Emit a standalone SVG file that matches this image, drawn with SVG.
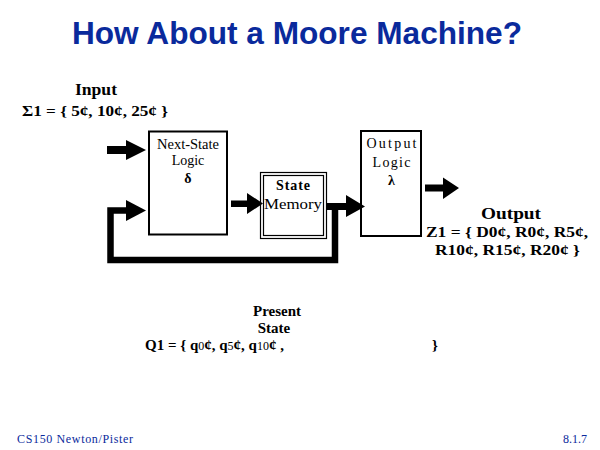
<svg xmlns="http://www.w3.org/2000/svg" width="600" height="450" viewBox="0 0 600 450">
<style>
.title{font-family:"Liberation Sans",Arial,sans-serif;font-weight:bold;font-size:31px;fill:#0a2a9c}
.foot{font-family:"Liberation Serif","Times New Roman",serif;font-size:12px;fill:#0a2a9c}
.box{fill:#fff;stroke:#000;stroke-width:2}
.box2{fill:none;stroke:#000;stroke-width:1.2}
.bt{font-family:"Liberation Serif","Times New Roman",serif;font-size:14px;fill:#000;text-anchor:middle}
.lbl{font-family:"Liberation Serif","Times New Roman",serif;font-size:15px;font-weight:bold;fill:#000}
.big{font-size:16.5px}
.mid{text-anchor:middle}
.small{font-size:12px;font-weight:normal}
.arr{fill:#000}
.line{fill:none;stroke:#000;stroke-width:6.5;stroke-linejoin:miter}
</style>
<rect width="600" height="450" fill="#fff"/>
<text class="title" x="72" y="44" textLength="450" lengthAdjust="spacingAndGlyphs">How About a Moore Machine?</text>

<g id="input-label">
<text class="lbl big mid" x="96" y="95" textLength="42" lengthAdjust="spacingAndGlyphs">Input</text>
<text class="lbl" x="22" y="116" textLength="146" lengthAdjust="spacingAndGlyphs">Σ1 = { 5¢, 10¢, 25¢ }</text>
</g>

<g id="next-state-logic">
<rect class="box" x="149" y="131.5" width="78" height="103"/>
<text class="bt" x="188" y="149" textLength="62" lengthAdjust="spacingAndGlyphs">Next-State</text>
<text class="bt" x="188" y="165">Logic</text>
<text class="bt" x="188" y="183" font-weight="bold">δ</text>
</g>

<g id="state-memory">
<rect class="box2" x="260.5" y="172.5" width="66" height="66"/>
<rect class="box2" x="263.5" y="175.5" width="60" height="60"/>
<text class="bt" x="293" y="190" font-weight="bold" textLength="34" lengthAdjust="spacing">State</text>
<text class="bt" x="293" y="209" textLength="58" lengthAdjust="spacingAndGlyphs">Memory</text>
</g>

<g id="output-logic">
<rect class="box" x="361" y="131" width="60" height="105"/>
<text class="bt" x="391.5" y="148" textLength="50" lengthAdjust="spacing">Output</text>
<text class="bt" x="391.5" y="166.5" textLength="38" lengthAdjust="spacing">Logic</text>
<text class="bt" x="391.5" y="185" font-weight="bold">λ</text>
</g>

<g id="output-label">
<text class="lbl big mid" x="511" y="219" textLength="60" lengthAdjust="spacingAndGlyphs">Output</text>
<text class="lbl" x="426" y="237" textLength="162" lengthAdjust="spacingAndGlyphs">Z1 = { D0¢, R0¢, R5¢,</text>
<text class="lbl" x="435" y="255" textLength="145" lengthAdjust="spacingAndGlyphs">R10¢, R15¢, R20¢ }</text>
</g>

<g id="present-state-label">
<text class="lbl mid" x="277" y="316">Present</text>
<text class="lbl mid" x="274" y="333">State</text>
<text class="lbl" x="145" y="350">Q1 = { q<tspan class="small">0</tspan>¢, q<tspan class="small">5</tspan>¢, q<tspan class="small">10</tspan>¢ ,</text>
<text class="lbl" x="432" y="350">}</text>
</g>

<g id="connectors">
<path class="arr" d="M107,146 H126 V140 L146,150 L126,160 V154 H107 Z"/>
<path class="line" d="M335,207 V260 H110.5 V210.5 H128"/>
<path class="arr" d="M126,200 L146,210.5 L126,221 Z"/>
<path class="arr" d="M231,200.5 H247 V193 L263,203.5 L247,214 V207 H231 Z"/>
<path class="arr" d="M327,203 H346 V195 L365,206.5 L346,217 V210 H327 Z"/>
<path class="arr" d="M425,184.5 H443 V177.5 L459,188 L443,199 V191.5 H425 Z"/>
</g>

<text class="foot" x="17" y="443" textLength="116" lengthAdjust="spacing">CS150 Newton/Pister</text>
<text class="foot" x="587" y="443" text-anchor="end">8.1.7</text>
</svg>
